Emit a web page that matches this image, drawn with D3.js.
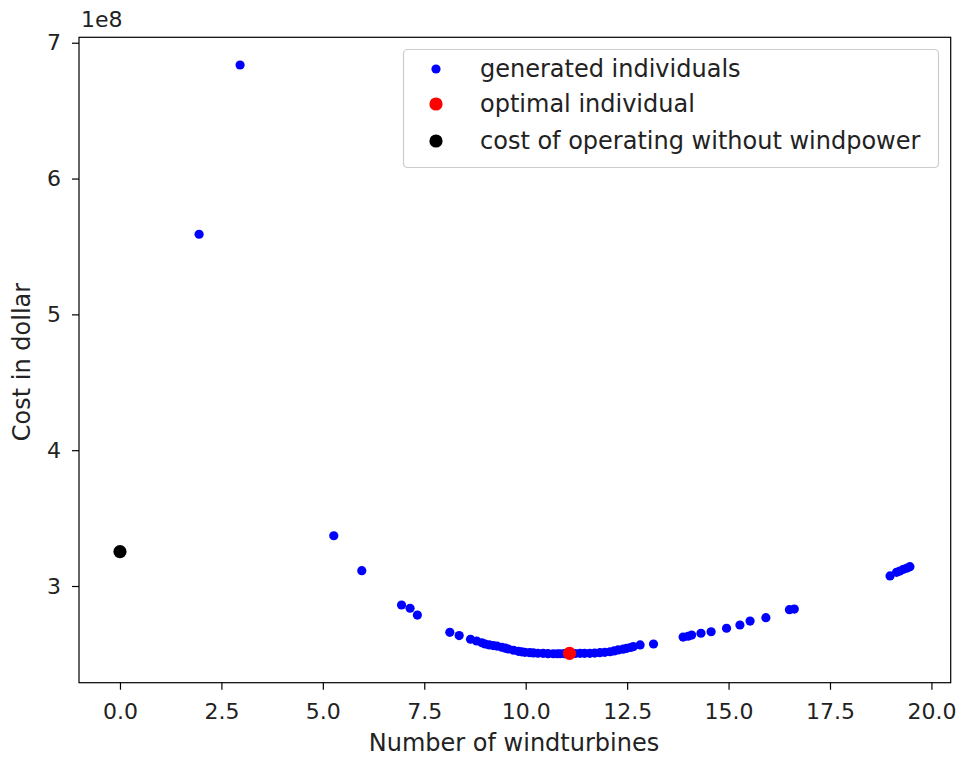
<!DOCTYPE html>
<html><head><meta charset="utf-8">
<script src="https://cdn.jsdelivr.net/npm/d3@7"></script>
<style>body{margin:0;background:#fff;} text{font-family:"DejaVu Sans",sans-serif;fill:#222;}</style>
</head><body>
<svg id="c" width="958" height="758"></svg>
<script>
// generated individuals: number of windturbines (x) and cost in units of 1e8 dollars (y)
const genX = [1.95, 2.96, 5.27, 5.96, 6.94, 7.15, 7.33, 8.13, 8.36, 8.64, 8.79, 8.92, 9.00, 9.10, 9.20, 9.29, 9.41, 9.50, 9.57, 9.70, 9.82, 9.90, 9.98, 10.10, 10.19, 10.30, 10.43, 10.55, 10.68, 10.78, 10.85, 10.95, 11.22, 11.34, 11.45, 11.58, 11.70, 11.83, 11.95, 12.08, 12.18, 12.28, 12.40, 12.49, 12.58, 12.65, 12.82, 13.15, 13.88, 14.00, 14.09, 14.32, 14.57, 14.95, 15.28, 15.53, 15.92, 16.50, 16.62, 18.98, 19.14, 19.22, 19.31, 19.40, 19.47];
const genY = [5.59, 6.836, 3.370, 3.113, 2.860, 2.836, 2.786, 2.659, 2.635, 2.608, 2.595, 2.582, 2.573, 2.566, 2.561, 2.558, 2.549, 2.542, 2.536, 2.527, 2.519, 2.515, 2.512, 2.509, 2.507, 2.505, 2.504, 2.502, 2.501, 2.501, 2.501, 2.502, 2.503, 2.504, 2.504, 2.504, 2.506, 2.509, 2.512, 2.516, 2.522, 2.529, 2.535, 2.541, 2.547, 2.553, 2.566, 2.573, 2.624, 2.630, 2.639, 2.652, 2.663, 2.689, 2.713, 2.742, 2.767, 2.826, 2.830, 3.074, 3.101, 3.110, 3.123, 3.132, 3.142];
// optimal individual
const optX = [11.08];
const optY = [2.504];
// cost of operating without windpower
const baseX = [0];
const baseY = [3.253];
const xTicks = [0, 2.5, 5, 7.5, 10, 12.5, 15, 17.5, 20];
const yTicks = [3, 4, 5, 6, 7];
const legendLabels = ["generated individuals", "optimal individual", "cost of operating without windpower"];
const legendColors = ["#0000ff", "#ff0000", "#000000"];

const svg = d3.select("#c");
const L = 79, R = 950.7, T = 37.3, B = 682.7;
const x = d3.scaleLinear().domain([-1.01, 20.475]).range([L, R]);
const y = d3.scaleLinear().domain([2.288, 7.04]).range([B, T]);

const fsTick = 22, fsLab = 24;
// points
const g = svg.append("g");
g.selectAll(".gen").data(d3.range(genX.length)).join("circle")
  .attr("cx", i => x(genX[i])).attr("cy", i => y(genY[i])).attr("r", 4.6).attr("fill", "#0000ff");
g.selectAll(".base").data(d3.range(baseX.length)).join("circle")
  .attr("cx", i => x(baseX[i])).attr("cy", i => y(baseY[i])).attr("r", 6.6).attr("fill", "#000");
g.selectAll(".opt").data(d3.range(optX.length)).join("circle")
  .attr("cx", i => x(optX[i])).attr("cy", i => y(optY[i])).attr("r", 6.6).attr("fill", "#ff0000");

// axes
const xAxis = d3.axisBottom(x).tickValues(xTicks).tickFormat(d3.format(".1f")).tickSize(7).tickPadding(14);
const yAxis = d3.axisLeft(y).tickValues(yTicks).tickFormat(d3.format("d")).tickSize(7).tickPadding(11);
const gx = svg.append("g").attr("transform", `translate(0,${B})`).call(xAxis);
const gy = svg.append("g").attr("transform", `translate(${L},0)`).call(yAxis);
[gx, gy].forEach(a => {
  a.select(".domain").remove();
  a.selectAll("line").attr("stroke", "#000").attr("stroke-width", 1.2);
  a.selectAll("text").attr("font-size", fsTick).attr("font-family", "DejaVu Sans").attr("fill", "#222");
});
// frame
svg.append("rect").attr("x", L).attr("y", T).attr("width", R - L).attr("height", B - T)
  .attr("fill", "none").attr("stroke", "#000").attr("stroke-width", 1.2);

// labels
svg.append("text").attr("x", 514).attr("y", 751).attr("text-anchor", "middle")
  .attr("font-size", fsLab).text("Number of windturbines");
svg.append("text").attr("transform", `translate(30,362) rotate(-90)`).attr("text-anchor", "middle")
  .attr("font-size", fsLab).text("Cost in dollar");
svg.append("text").attr("x", L + 2).attr("y", 26.5).attr("font-size", fsTick).text("1e8");

// legend
const lg = svg.append("g");
lg.append("rect").attr("x", 403.5).attr("y", 49.5).attr("width", 535).attr("height", 118).attr("rx", 4)
  .attr("fill", "#fff").attr("fill-opacity", 0.8).attr("stroke", "#ccc").attr("stroke-width", 1.2);
const ly = [69, 104, 141];
legendLabels.forEach((t, i) => {
  lg.append("circle").attr("cx", 436).attr("cy", ly[i]).attr("r", i === 0 ? 4.6 : 6.6).attr("fill", legendColors[i]);
  lg.append("text").attr("x", 480).attr("y", ly[i]).attr("dy", "0.35em").attr("font-size", fsLab).text(t);
});
</script>
</body></html>
